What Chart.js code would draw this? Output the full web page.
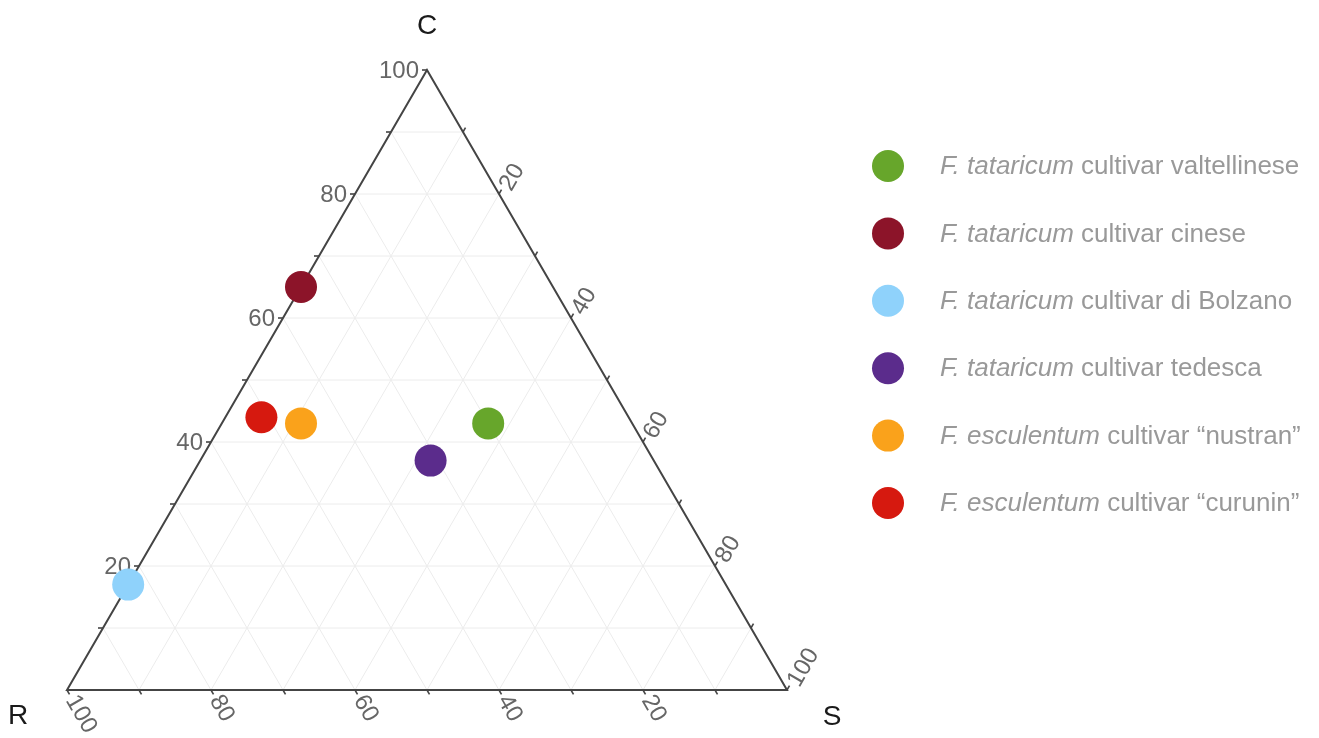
<!DOCTYPE html>
<html>
<head>
<meta charset="utf-8">
<script src="https://cdn.jsdelivr.net/npm/chart.js@4/dist/chart.umd.min.js"></script>
<style>
  html, body { margin: 0; padding: 0; background: #ffffff; }
  #wrap { width: 1319px; height: 738px; }
</style>
</head>
<body>
<div id="wrap"><canvas id="csr" width="1319" height="738"></canvas></div>
<script>
// Cultivars and their CSR strategy shares (percent, C + R + S = 100)
const species   = ['F. tataricum', 'F. tataricum', 'F. tataricum', 'F. tataricum', 'F. esculentum', 'F. esculentum'];
const cultivars = ['cultivar valtellinese', 'cultivar cinese', 'cultivar di Bolzano', 'cultivar tedesca', 'cultivar \u201cnustran\u201d', 'cultivar \u201ccurunin\u201d'];
const cValues = [43, 65, 17, 37, 43, 44];
const rValues = [20, 35, 83, 31, 46, 51];
const sValues = [37,  0,  0, 32, 11,  5];
const colors  = ['#67a62b', '#8c1429', '#8fd2fb', '#5b2c8c', '#faa21b', '#d6190f'];

// Axis ticks
const gridSteps   = [10, 20, 30, 40, 50, 60, 70, 80, 90];
const tickSteps   = [10, 20, 30, 40, 50, 60, 70, 80, 90, 100];
const labelTicks  = [20, 40, 60, 80, 100];
const cornerNames = { C: 'C', R: 'R', S: 'S' };

const H = Math.sqrt(3) / 2;
// ternary (C, R, S) -> cartesian data coordinates
function toXY(c, r, s) {
  const t = c + r + s;
  return { x: (s + c / 2) / t * 100, y: (c / t) * 100 * H };
}

const datasets = species.map((sp, i) => ({
  label: sp + ' ' + cultivars[i],
  data: [toXY(cValues[i], rValues[i], sValues[i])],
  backgroundColor: colors[i],
  borderColor: colors[i],
  borderWidth: 0,
  pointRadius: 16,
  pointHoverRadius: 16,
  clip: false
}));

const ternaryAxes = {
  id: 'ternaryAxes',
  beforeDatasetsDraw(chart) {
    const ctx = chart.ctx;
    const xs = chart.scales.x, ys = chart.scales.y;
    const P = (c, r, s) => {
      const d = toXY(c, r, s);
      return { x: xs.getPixelForValue(d.x), y: ys.getPixelForValue(d.y) };
    };
    ctx.save();
    // light grid
    ctx.strokeStyle = '#ececec';
    ctx.lineWidth = 1;
    gridSteps.forEach(v => {
      const lines = [
        [P(v, 100 - v, 0), P(v, 0, 100 - v)],   // constant C
        [P(0, v, 100 - v), P(100 - v, v, 0)],   // constant R
        [P(0, 100 - v, v), P(100 - v, 0, v)]    // constant S
      ];
      lines.forEach(([a, b]) => {
        ctx.beginPath(); ctx.moveTo(a.x, a.y); ctx.lineTo(b.x, b.y); ctx.stroke();
      });
    });
    // outline
    const vc = P(100, 0, 0), vr = P(0, 100, 0), vs = P(0, 0, 100);
    ctx.strokeStyle = '#444444';
    ctx.lineWidth = 2;
    ctx.beginPath();
    ctx.moveTo(vr.x, vr.y); ctx.lineTo(vc.x, vc.y); ctx.lineTo(vs.x, vs.y); ctx.closePath();
    ctx.stroke();

    // ticks and tick labels
    const tickLen = 5;
    const a60 = Math.PI / 3;
    ctx.lineWidth = 1.6;
    ctx.fillStyle = '#666666';
    ctx.font = '24px "Liberation Sans", Arial, sans-serif';
    tickSteps.forEach(v => {
      // C axis, left edge, ticks pointing left
      let p = P(v, 100 - v, 0);
      ctx.beginPath(); ctx.moveTo(p.x, p.y); ctx.lineTo(p.x - tickLen, p.y); ctx.stroke();
      if (labelTicks.includes(v)) {
        ctx.textAlign = 'right'; ctx.textBaseline = 'middle';
        ctx.fillText(String(v), p.x - tickLen - 3, p.y + 1);
      }
      // R axis, bottom edge, ticks pointing down-right
      p = P(0, v, 100 - v);
      const dr = { x: Math.cos(a60), y: Math.sin(a60) };
      ctx.beginPath(); ctx.moveTo(p.x, p.y); ctx.lineTo(p.x + dr.x * tickLen, p.y + dr.y * tickLen); ctx.stroke();
      if (labelTicks.includes(v)) {
        ctx.save();
        ctx.translate(p.x + dr.x * (tickLen + 3), p.y + dr.y * (tickLen + 3));
        ctx.rotate(a60);
        ctx.textAlign = 'left'; ctx.textBaseline = 'middle';
        ctx.fillText(String(v), 0, 0);
        ctx.restore();
      }
      // S axis, right edge, ticks pointing up-right
      p = P(100 - v, 0, v);
      const ds = { x: Math.cos(a60), y: -Math.sin(a60) };
      ctx.beginPath(); ctx.moveTo(p.x, p.y); ctx.lineTo(p.x + ds.x * tickLen, p.y + ds.y * tickLen); ctx.stroke();
      if (labelTicks.includes(v)) {
        ctx.save();
        ctx.translate(p.x + ds.x * (tickLen + 2) + 3, p.y + ds.y * (tickLen + 2) + 1);
        ctx.rotate(-a60);
        ctx.textAlign = 'left'; ctx.textBaseline = 'middle';
        ctx.fillText(String(v), 0, 0);
        ctx.restore();
      }
    });

    // corner titles
    ctx.fillStyle = '#1a1a1a';
    ctx.font = '28px "Liberation Sans", Arial, sans-serif';
    ctx.textAlign = 'center'; ctx.textBaseline = 'middle';
    ctx.fillText(cornerNames.C, vc.x, vc.y - 44);
    ctx.fillText(cornerNames.R, vr.x - 49, vr.y + 26);
    ctx.fillText(cornerNames.S, vs.x + 45, vs.y + 27);
    ctx.restore();
  },
  afterDraw(chart) {
    // legend with italic species names
    const ctx = chart.ctx;
    ctx.save();
    const dotX = 888, textX = 940, top = 166, step = 67.4;
    species.forEach((sp, i) => {
      const y = top + i * step;
      ctx.fillStyle = colors[i];
      ctx.beginPath(); ctx.arc(dotX, y, 16, 0, Math.PI * 2); ctx.fill();
      ctx.fillStyle = '#999999';
      ctx.textAlign = 'left'; ctx.textBaseline = 'middle';
      ctx.font = 'italic 26px "Liberation Sans", Arial, sans-serif';
      ctx.fillText(sp, textX, y + 1);
      const w = ctx.measureText(sp + ' ').width;
      ctx.font = '26px "Liberation Sans", Arial, sans-serif';
      ctx.fillText(cultivars[i], textX + w, y + 1);
    });
    ctx.restore();
  }
};

new Chart(document.getElementById('csr'), {
  type: 'scatter',
  data: { datasets },
  options: {
    responsive: false,
    animation: false,
    layout: { padding: { left: 67, top: 70, right: 532, bottom: 48 } },
    scales: {
      x: { type: 'linear', min: 0, max: 100, display: false },
      y: { type: 'linear', min: 0, max: 100 * H, display: false }
    },
    plugins: {
      legend: { display: false },
      tooltip: { enabled: false }
    }
  },
  plugins: [ternaryAxes]
});
</script>
</body>
</html>
